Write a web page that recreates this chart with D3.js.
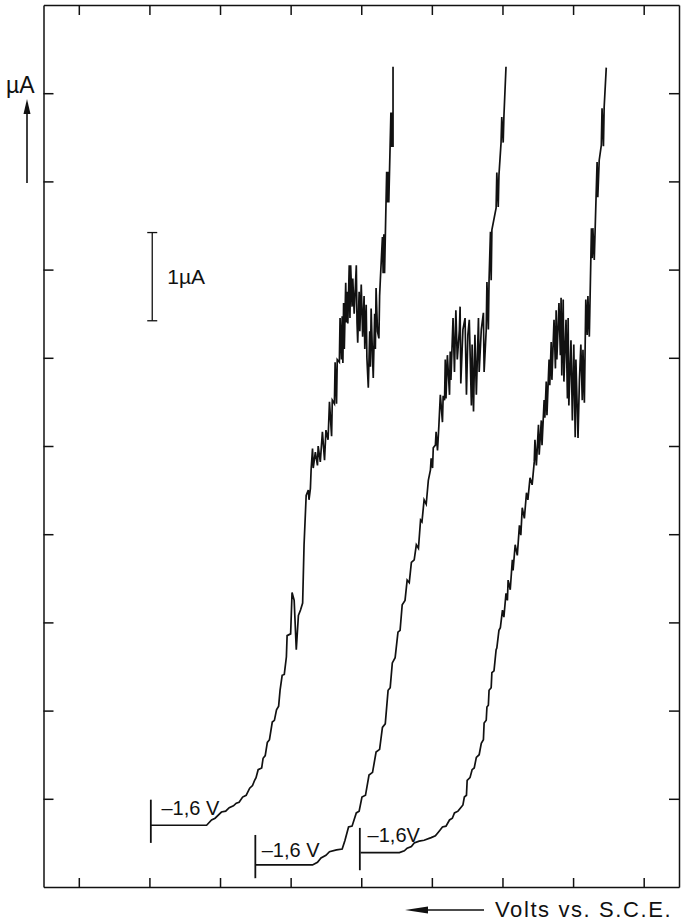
<!DOCTYPE html>
<html lang="en">
<head>
    <meta charset="UTF-8">
    <title>Polarogram</title>
    <script src="https://d3js.org/d3.v7.min.js"></script>
    <style>
        body {margin: 0; background: #fff}
        text {
            font-family: 'Liberation Sans', Arial, sans-serif;
            fill: #111
        }
        .axis path, .axis line {stroke: #111; stroke-width: 1.5}
    </style>
</head>
<body>
<script>
    const width  = 682;
    const height = 922;

    // x in chart divisions (ticks every division), y in microampere
    const xTicks = [0, 1, 2, 3, 4, 5, 6, 7, 8];
    const yTicks = [1, 2, 3, 4, 5, 6, 7, 8, 9];

    // -1,6 V start markers
    const markerLabels = ["\u20131,6 V", "\u20131,6 V", "\u20131,6V"];
    const markerX      = [1.02, 2.50, 3.98];
    const markerLow    = [0.50, 0.10, 0.19];
    const markerHigh   = [0.99, 0.59, 0.67];
    const labelX       = [1.17, 2.59, 4.09];
    const labelY       = [0.82, 0.34, 0.51];

    // 1 µA calibration bar
    const scaleBarX    = 1.04;
    const scaleBarLow  = 6.42;
    const scaleBarHigh = 7.42;

    const curve1 = [
        [1.02,0.70],[1.81,0.70],[1.88,0.76],[1.93,0.78],[2.02,0.85],[2.08,0.86],[2.13,0.90],[2.19,0.92],
        [2.23,0.95],[2.27,0.96],[2.32,1.02],[2.37,1.04],[2.42,1.12],[2.46,1.15],[2.49,1.21],[2.51,1.24],
        [2.54,1.33],[2.59,1.35],[2.61,1.46],[2.64,1.49],[2.67,1.64],[2.70,1.67],[2.74,1.87],[2.77,1.89],
        [2.80,2.01],[2.83,2.05],[2.85,2.23],[2.88,2.40],[2.91,2.41],[2.94,2.61],[2.95,2.85],[3.00,2.87],
        [3.02,3.34],[3.05,3.25],[3.08,2.69],[3.11,3.08],[3.14,3.14],[3.17,3.22],[3.19,3.88],[3.22,4.44],
        [3.25,4.50],[3.26,4.39],[3.28,4.52],[3.29,4.73],
        [3.31,4.97],[3.32,4.75],[3.35,4.93],[3.38,4.78],[3.39,5.00],[3.42,4.82],[3.45,5.16],[3.48,4.84],
        [3.50,5.18],[3.53,5.07],[3.55,5.50],[3.58,5.11],[3.59,5.52],[3.62,5.48],[3.63,5.95],[3.65,5.48],
        [3.66,5.98],[3.69,5.95],[3.70,6.45],[3.72,5.98],[3.73,6.47],[3.74,5.94],
        [3.75,6.62],[3.76,6.10],[3.78,6.85],[3.79,6.40],[3.80,6.75],[3.81,6.39],[3.83,7.05],[3.84,6.45],
        [3.85,7.05],[3.87,6.58],[3.88,6.90],[3.90,6.50],[3.93,7.05],[3.94,6.40],[3.95,6.17],[3.97,6.75],
        [3.98,6.30],[4.00,6.83],[4.02,6.24],[4.04,6.70],[4.05,6.10],[4.07,6.60],[4.08,6.00],[4.10,5.66],
        [4.12,6.30],[4.13,5.90],[4.14,6.56],[4.16,6.00],[4.17,5.77],[4.19,6.50],[4.20,6.10],[4.21,6.79],
        [4.23,6.30],[4.25,6.22],[4.26,6.70],[4.27,6.88],
        [4.30,7.37],[4.31,6.96],[4.32,7.40],[4.33,6.96],[4.36,8.11],[4.37,7.76],[4.38,8.11],[4.39,7.76],
        [4.42,8.78],[4.43,8.39],[4.44,8.78],[4.45,8.39],[4.45,9.30]
    ];

    const curve2 = [
        [2.50,0.25],[3.31,0.25],[3.38,0.28],[3.43,0.33],[3.50,0.36],[3.55,0.40],[3.65,0.42],[3.73,0.43],
        [3.77,0.53],[3.82,0.68],[3.87,0.69],[3.93,0.84],[3.97,0.86],[4.01,1.02],[4.06,1.04],[4.11,1.27],
        [4.16,1.30],[4.21,1.53],[4.26,1.56],[4.30,1.81],[4.34,1.85],[4.38,2.23],[4.41,2.26],[4.44,2.54],
        [4.48,2.60],[4.52,2.89],[4.55,2.91],[4.58,3.20],[4.62,3.25],[4.65,3.48],[4.68,3.45],[4.71,3.68],
        [4.75,3.71],[4.78,3.88],[4.81,3.84],[4.84,4.16],[4.86,4.14],[4.89,4.39],[4.92,4.34],[4.95,4.61],
        [4.98,4.73],[4.99,4.86],[5.01,4.75],[5.02,4.98],[5.05,5.01],[5.06,5.16],[5.08,4.95],[5.10,5.24],
        [5.12,5.58],[5.15,5.27],[5.16,5.57],[5.18,5.52],[5.19,5.98],[5.20,5.54],[5.22,6.03],[5.25,5.58],
        [5.26,6.07],[5.27,5.75],[5.30,6.45],[5.32,5.84],[5.34,6.54],[5.36,5.98],[5.39,6.32],[5.40,6.58],
        [5.41,5.71],[5.44,6.32],[5.47,6.45],[5.49,5.58],[5.51,6.26],[5.53,6.43],[5.56,5.46],[5.57,6.15],
        [5.59,5.39],[5.61,6.26],[5.63,5.58],[5.66,6.45],[5.67,5.84],[5.70,6.32],[5.73,6.51],[5.74,5.84],
        [5.77,6.32],[5.78,6.86],[5.80,6.32],[5.81,6.88],[5.83,7.43],[5.84,6.88],[5.85,7.45],[5.91,7.70],
        [5.92,8.10],[5.94,7.71],[5.95,8.07],[5.98,8.44],[5.99,8.73],[6.01,8.44],[6.02,8.73],[6.05,9.30]
    ];

    const curve3 = [
        [3.99,0.39],[4.54,0.39],[4.61,0.41],[4.65,0.44],[4.71,0.46],[4.75,0.50],[4.82,0.52],[4.89,0.53],
        [4.99,0.56],[5.05,0.58],[5.08,0.61],[5.12,0.65],[5.15,0.68],[5.20,0.69],[5.25,0.76],[5.29,0.78],
        [5.32,0.84],[5.37,0.86],[5.42,0.91],[5.44,0.93],[5.46,1.02],[5.49,1.04],[5.50,1.21],[5.54,1.24],
        [5.57,1.33],[5.60,1.35],[5.63,1.47],[5.67,1.50],[5.70,1.63],[5.73,1.67],[5.74,1.86],[5.77,1.89],
        [5.78,2.04],[5.80,2.06],[5.81,2.23],[5.84,2.26],[5.85,2.43],[5.88,2.45],[5.91,2.69],[5.92,2.71],
        [5.95,2.91],[5.97,2.94],[6.00,3.14],[6.02,3.06],[6.05,3.33],[6.07,3.25],[6.08,3.48],[6.11,3.37],
        [6.14,3.71],[6.15,3.59],[6.18,3.88],[6.21,3.76],[6.24,4.10],[6.26,3.99],[6.28,4.30],[6.31,4.18],
        [6.34,4.47],[6.36,4.39],[6.39,4.64],[6.42,4.56],[6.45,4.82],[6.46,5.07],[6.48,4.78],[6.51,5.24],
        [6.52,4.90],[6.55,5.29],[6.56,5.01],[6.59,5.52],[6.60,5.32],[6.62,5.73],[6.63,5.35],[6.66,5.98],
        [6.67,5.69],[6.69,6.18],[6.70,5.75],[6.73,6.43],[6.75,5.88],[6.76,6.54],[6.77,5.98],[6.80,6.62],
        [6.82,6.03],[6.83,6.68],[6.84,5.80],[6.86,6.66],[6.87,5.73],[6.90,6.43],[6.92,5.54],[6.93,6.45],
        [6.94,5.46],[6.97,6.20],[6.99,5.29],[7.01,6.15],[7.03,5.10],[7.04,5.98],[7.07,5.09],[7.09,5.75],
        [7.11,6.15],[7.13,5.52],[7.14,6.09],[7.16,5.49],[7.18,6.66],[7.20,6.26],[7.21,6.70],[7.23,6.24],
        [7.26,7.47],[7.27,7.13],[7.28,7.47],[7.30,7.11],[7.34,8.22],[7.35,7.82],[7.37,8.24],[7.40,8.41],
        [7.41,8.83],[7.43,8.40],[7.44,8.84],[7.47,9.29]
    ];

    const curves = [curve1, curve2, curve3];

    const x = d3.scaleLinear().domain([-0.5, 8.5]).range([43.5, 679]);
    const y = d3.scaleLinear().domain([0, 10]).range([887, 5]);

    const svg = d3.select("body")
            .append("svg")
            .attr("width", width)
            .attr("height", height);

    // frame: four axes with inward ticks, no labels
    svg.append("g").attr("class", "axis")
       .attr("transform", `translate(0,${y(0)})`)
       .call(d3.axisBottom(x).tickValues(xTicks).tickSize(-9).tickSizeOuter(0).tickFormat(""));
    svg.append("g").attr("class", "axis")
       .attr("transform", `translate(0,${y(10)})`)
       .call(d3.axisTop(x).tickValues(xTicks).tickSize(-10).tickSizeOuter(0).tickFormat(""));
    svg.append("g").attr("class", "axis")
       .attr("transform", `translate(${x(-0.5)},0)`)
       .call(d3.axisLeft(y).tickValues(yTicks).tickSize(-10).tickSizeOuter(0).tickFormat(""));
    svg.append("g").attr("class", "axis")
       .attr("transform", `translate(${x(8.5)},0)`)
       .call(d3.axisRight(y).tickValues(yTicks).tickSize(-10).tickSizeOuter(0).tickFormat(""));

    const line = d3.line()
            .x(d => x(d[0]))
            .y(d => y(d[1]));

    svg.selectAll("path.trace")
       .data(curves)
       .enter()
       .append("path")
       .attr("class", "trace")
       .attr("d", line)
       .style("fill", "none")
       .style("stroke", "#111")
       .style("stroke-width", 1.7)
       .style("stroke-linejoin", "miter");

    // start markers and labels
    svg.selectAll("line.marker")
       .data(markerX)
       .enter()
       .append("line")
       .attr("class", "marker")
       .attr("x1", d => x(d)).attr("x2", d => x(d))
       .attr("y1", (d,i) => y(markerLow[i]))
       .attr("y2", (d,i) => y(markerHigh[i]))
       .style("stroke", "#111")
       .style("stroke-width", 1.8);

    svg.selectAll("text.mlabel")
       .data(markerLabels)
       .enter()
       .append("text")
       .attr("class", "mlabel")
       .attr("x", (d,i) => x(labelX[i]))
       .attr("y", (d,i) => y(labelY[i]))
       .style("font-size", "20px")
       .text(d => d);

    // calibration bar
    const bar = svg.append("g").style("stroke", "#111").style("stroke-width", 1.3);
    bar.append("line")
       .attr("x1", x(scaleBarX)).attr("x2", x(scaleBarX))
       .attr("y1", y(scaleBarLow)).attr("y2", y(scaleBarHigh));
    [scaleBarLow, scaleBarHigh].forEach(v => {
        bar.append("line")
           .attr("x1", x(scaleBarX) - 5).attr("x2", x(scaleBarX) + 5)
           .attr("y1", y(v)).attr("y2", y(v));
    });
    svg.append("text")
       .attr("x", x(scaleBarX) + 15)
       .attr("y", y((scaleBarLow + scaleBarHigh) / 2) + 7)
       .style("font-size", "21px")
       .text("1\u00b5A");

    // y label with upward arrow
    svg.append("text")
       .attr("x", 6)
       .attr("y", 93)
       .style("font-size", "23px")
       .text("\u00b5A");
    svg.append("line")
       .attr("x1", 27).attr("x2", 27)
       .attr("y1", 183).attr("y2", 110)
       .style("stroke", "#111").style("stroke-width", 1.6);
    svg.append("path")
       .attr("d", "M27,99 L23.5,114 L30.5,114 Z")
       .style("fill", "#111");

    // x label with leftward arrow
    svg.append("line")
       .attr("x1", 420).attr("x2", 484)
       .attr("y1", 910).attr("y2", 910)
       .style("stroke", "#111").style("stroke-width", 1.4);
    svg.append("path")
       .attr("d", "M405,910 L428,906.5 L428,913.5 Z")
       .style("fill", "#111");
    svg.append("text")
       .attr("x", 495)
       .attr("y", 917)
       .style("font-size", "22px")
       .style("letter-spacing", "1.6px")
       .text("Volts vs. S.C.E.");
</script>
</body>
</html>
